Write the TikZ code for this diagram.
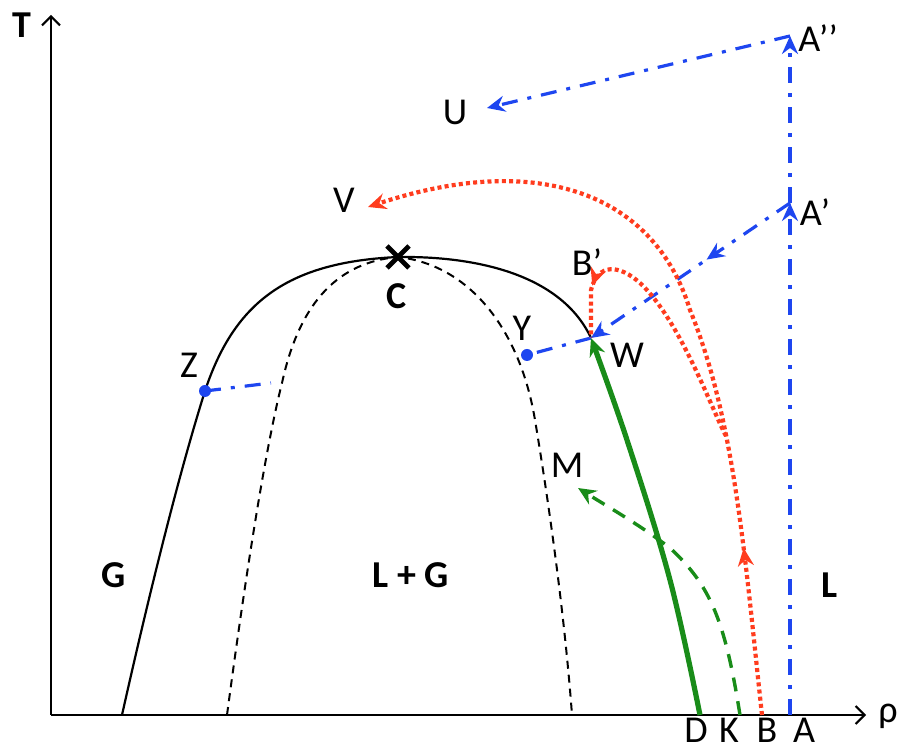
\documentclass[tikz,border=0pt]{standalone}
\usepackage{fontspec}
\setmainfont{Carlito}
\usetikzlibrary{arrows.meta,decorations.markings}

\definecolor{azulc}{RGB}{30,70,240}
\definecolor{rojoc}{RGB}{255,60,30}
\definecolor{verdec}{RGB}{25,140,25}

\begin{document}
\begin{tikzpicture}[x=0.5pt, y=-0.5pt,
    every node/.style={font=\fontsize{19}{22}\selectfont, inner sep=0pt},
    negrita/.style={font=\fontsize{19}{22}\selectfont\bfseries},
    eje/.style={line width=1pt, -{Straight Barb[length=4.5pt,width=9pt,line width=1pt]}},
    punta/.style={-{Stealth[length=9pt,width=8pt,inset=3pt]}},
    binodal/.style={line width=1.1pt},
    espinodal/.style={line width=1pt, dash pattern=on 4pt off 3pt},
    azul/.style={azulc, line width=1.6pt, dash pattern=on 8pt off 5pt on 2pt off 5pt},
    rojo/.style={rojoc, line width=2.1pt, dash pattern=on 2pt off 1.6pt},
    verde/.style={verdec, line width=2.6pt},
    verdeguion/.style={verdec, line width=1.7pt, dash pattern=on 7pt off 5pt},
    flechamedia/.style={postaction={decorate}, decoration={markings,
        mark=at position #1 with {\arrow{Stealth[length=9pt,width=8pt,inset=3pt]}}}},
    punto/.style={fill=azulc}]
    \useasboundingbox (0,0) rectangle (901,748);

    % Puntos
    \coordinate (O) at (51,715);
    \coordinate (D) at (700,715);
    \coordinate (K) at (740,715);
    \coordinate (B) at (762,715);
    \coordinate (A) at (790,715);
    \coordinate (Ap) at (790,203);
    \coordinate (App) at (790,36);
    \coordinate (U) at (487,108);
    \coordinate (V) at (368,207);
    \coordinate (W) at (591,338);
    \coordinate (Y) at (527,355);
    \coordinate (Z) at (205,391);
    \coordinate (Zfin) at (271,383);
    \coordinate (C) at (398,257);
    \coordinate (M) at (578,488);
    \coordinate (rama) at (726,436);

    % Ejes
    \draw[eje] (O) -- (866,715);
    \draw[eje] (O) -- (51,15);

    % Curva de coexistencia y espinodal
    \draw[binodal] (122,715) .. controls (150,590) and (180,470) .. (Z)
        .. controls (235,300) and (290,262) .. (C)
        .. controls (480,256) and (562,276) .. (W);
    \draw[espinodal] (227,715) .. controls (245,580) and (265,450) .. (282,383)
        .. controls (300,300) and (340,262) .. (C)
        .. controls (470,265) and (520,330) .. (535,420)
        .. controls (550,510) and (565,620) .. (572,715);

    % Punto critico
    \draw[line width=2.4pt] ([shift={(-11,-11)}]C) -- ([shift={(11,11)}]C);
    \draw[line width=2.4pt] ([shift={(-11,11)}]C) -- ([shift={(11,-11)}]C);

    % Caminos azules
    \draw[azul, punta] (A) -- (Ap);
    \draw[azul, punta] (Ap) -- (App);
    \draw[azul, punta] (App) -- (U);
    \draw[azul, punta, flechamedia=0.42] (Ap) -- (W);
    \draw[azul] (W) -- (Y);
    \draw[azul] (Z) -- (Zfin);
    \fill[punto] (Y) circle (3pt);
    \fill[punto] (Z) circle (3pt);

    % Caminos rojos
    \draw[rojo, punta, flechamedia=84pt] (B) .. controls (745,560) and (735,420) .. (690,310)
        .. controls (655,195) and (540,150) .. (V);
    \draw[rojo, flechamedia=118pt] (rama) .. controls (712,410) and (680,320) .. (640,283)
        .. controls (620,265) and (598,262) .. (591,290) -- (W);

    % Caminos verdes
    \draw[verde, punta] plot[smooth, tension=0.6] coordinates {(D) (670,580) (627,440) (W)};
    \draw[verdeguion, punta] (K) .. controls (725,620) and (710,585) .. (670,548)
        .. controls (640,525) and (605,505) .. (M);

    % Etiquetas
    \node[negrita] (labT) at (22,25) {T};
    \node (labrho) at (888,716) {ρ};
    \node (labD) at (696,730) {D};
    \node (labK) at (729,730) {K};
    \node (labB) at (767,730) {B};
    \node (labA) at (804,730) {A};
    \node (labApp) at (818,38) {A’’};
    \node (labAp) at (815,212) {A’};
    \node (labU) at (455,112) {U};
    \node (labV) at (344,200) {V};
    \node (labBp) at (587,262) {B’};
    \node[negrita] (labC) at (397,296) {C};
    \node (labY) at (522,328) {Y};
    \node (labW) at (627,355) {W};
    \node (labZ) at (189,365) {Z};
    \node (labM) at (567,465) {M};
    \node[negrita] (labG) at (114,575) {G};
    \node[negrita] (labLG) at (411,575) {L + G};
    \node[negrita] (labL) at (830,585) {L};
\end{tikzpicture}
\end{document}
